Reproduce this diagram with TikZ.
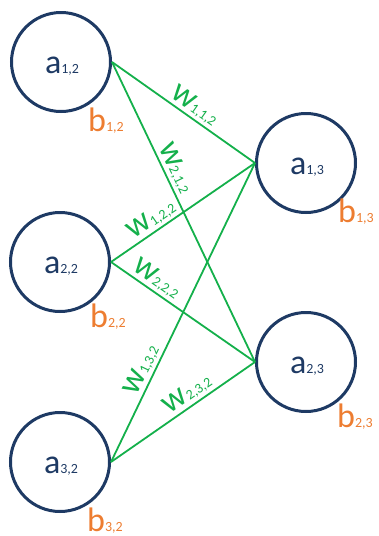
\documentclass[tikz,border=0pt]{standalone}
\usepackage{fontspec}
\setmainfont{Carlito}
\definecolor{navy}{RGB}{30,58,100}
\definecolor{wgreen}{RGB}{20,176,75}
\definecolor{borange}{RGB}{237,125,49}
\newcommand{\lbl}[2]{{\fontsize{34}{34}\selectfont #1}{\fontsize{14}{14}\selectfont #2}}
\tikzset{
  neuron/.style={circle, draw=navy, line width=3pt, minimum size=99pt, inner sep=0pt},
  alabel/.style={anchor=base, text=navy, inner sep=0pt},
  blabel/.style={anchor=base west, text=borange, inner sep=0pt},
  conn/.style={draw=wgreen, line width=1.8pt},
  wlabel/.style={sloped, above, text=wgreen, inner sep=2.5pt}
}
\begin{document}
\begin{tikzpicture}[x=1pt,y=-1pt]
\useasboundingbox (0,0) rectangle (378,536);
\node[neuron] (a12) at (61,62) {};
\node[neuron] (a22) at (60,262) {};
\node[neuron] (a32) at (60,462) {};
\node[neuron] (a13) at (306,163) {};
\node[neuron] (a23) at (306,362) {};
\node[alabel] (t12) at (62,73) {\lbl{a}{1,2}};
\node[alabel] (t22) at (61,273) {\lbl{a}{2,2}};
\node[alabel] (t32) at (61,473) {\lbl{a}{3,2}};
\node[alabel] (t13) at (307,174) {\lbl{a}{1,3}};
\node[alabel] (t23) at (307,373) {\lbl{a}{2,3}};
\node[blabel] (b12) at (88,131) {\lbl{b}{1,2}};
\node[blabel] (b22) at (90,327) {\lbl{b}{2,2}};
\node[blabel] (b32) at (87,531) {\lbl{b}{3,2}};
\node[blabel] (b13) at (338,222) {\lbl{b}{1,3}};
\node[blabel] (b23) at (337,427) {\lbl{b}{2,3}};
\draw[conn] (a12.east) -- node[wlabel, pos=0.53] (w112) {\lbl{w}{1,1,2}} (a13.west);
\draw[conn] (a12.east) -- node[wlabel, pos=0.37] (w212) {\lbl{w}{2,1,2}} (a23.west);
\draw[conn] (a22.east) -- node[wlabel, pos=0.33] (w122) {\lbl{w}{1,2,2}} (a13.west);
\draw[conn] (a22.east) -- node[wlabel, pos=0.27] (w222) {\lbl{w}{2,2,2}} (a23.west);
\draw[conn] (a32.east) -- node[wlabel, pos=0.29] (w132) {\lbl{w}{1,3,2}} (a13.west);
\draw[conn] (a32.east) -- node[wlabel, pos=0.58] (w232) {\lbl{w}{2,3,2}} (a23.west);
\end{tikzpicture}
\end{document}
